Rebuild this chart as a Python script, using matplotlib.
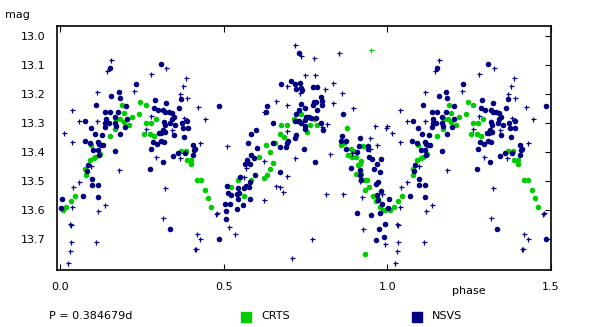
import matplotlib
matplotlib.use("Agg")
import matplotlib.pyplot as plt
from matplotlib.patches import Rectangle

# CRTS (fase, magnitude)
crts_fase = [.189, .195, .172, .184, .195, .169, .152, .094, .122, .104, .108, .091, .078, .079, .045, .033, .020, .008,
             .246, .263, .240, .219, .293, .263, .278, .210, .257, .275, .287, .369, .384, .388, .400, .400,
             .608, .419, .431, .543, .584, .624, .522, .443, .561, .451, .460,
             .736, .715, .776, .674, .693, .764, .785, .754, .671, .684, .657, .629, .641, .650, .641, .633,
             .877, .857, .867, .926, .888, .896, .879, .892, .905, .921, .918, .911, .920, .905, .919, .932,
             .938, .943, .931, .955, .965, .973, .977, .986, .994, .931]
crts_mag = [13.240, 13.266, 13.287, 13.288, 13.296, 13.320, 13.346, 13.377, 13.407, 13.420, 13.419, 13.429, 13.458,
            13.479, 13.551, 13.568, 13.589, 13.600,
            13.229, 13.240, 13.268, 13.278, 13.288, 13.299, 13.299, 13.308, 13.339, 13.339, 13.346, 13.398, 13.398,
            13.429, 13.429, 13.440,
            13.419, 13.498, 13.498, 13.498, 13.497, 13.489, 13.520, 13.531, 13.551, 13.558, 13.589,
            13.268, 13.287, 13.288, 13.308, 13.308, 13.308, 13.308, 13.330, 13.339, 13.347, 13.368, 13.377, 13.399,
            13.439, 13.458, 13.478,
            13.319, 13.376, 13.369, 13.378, 13.389, 13.397, 13.409, 13.419, 13.419, 13.430, 13.442, 13.446, 13.475,
            13.477, 13.492, 13.498, 13.498, 13.521, 13.531, 13.551, 13.569, 13.561, 13.589, 13.599, 13.599, 13.752]
crts_fase_peq = [.951]
crts_mag_peq = [13.047]

# NSVS, pontos grandes
nsvs_fase = [.152, .179, .157, .183, .109, .137, .152, .178, .078, .140, .139, .150, .168, .167, .094, .137, .170,
             .183, .106, .127, .076, .091, .115, .118, .124, .131, .167, .102, .116, .118, .085, .082, .097, .097,
             .116, .069, .006, .116, .003,
             .309, .232, .370, .290, .324, .203, .287, .299, .316, .322, .332, .341, .363, .204, .348, .341, .337,
             .318, .352, .389, .373, .375, .390, .321, .198, .314, .320, .303, .310, .347, .378, .309, .318, .284,
             .295, .406, .278, .408, .360, .382, .405, .345, .315, .274, .336,
             .486, .598, .583, .573, .412, .602, .583, .592, .570, .565, .580, .596, .550, .580, .510, .544, .562,
             .568, .577, .512, .522, .540, .548, .543, .580, .504, .519, .558, .507, .540, .507, .486,
             .730, .706, .675, .718, .732, .721, .735, .739, .773, .784, .797, .800, .777, .782, .772, .800, .632,
             .736, .729, .748, .786, .629, .721, .751, .762, .767, .782, .719, .726, .730, .737, .748, .796, .651,
             .749, .748, .803, .721, .719, .697, .694, .651, .672, .690, .745, .779, .673,
             .865, .862, .859, .874, .917, .913, .941, .874, .941, .906, .944, .952, .981, .968, .888, .959, .917,
             .916, .978, .920, .965, .971, .981, .969, .971, .983, .908, .949, .978, .974, .993, .990, .965]
nsvs_mag = [13.111, 13.194, 13.208, 13.215, 13.239, 13.263, 13.261, 13.263, 13.295, 13.288, 13.300, 13.299, 13.281,
            13.301, 13.316, 13.314, 13.311, 13.339, 13.339, 13.343, 13.363, 13.369, 13.366, 13.373, 13.375, 13.377,
            13.398, 13.394, 13.392, 13.412, 13.444, 13.467, 13.495, 13.513, 13.513, 13.551, 13.561, 13.557, 13.592,
            13.097, 13.167, 13.219, 13.222, 13.233, 13.242, 13.250, 13.257, 13.256, 13.263, 13.263, 13.265, 13.249,
            13.286, 13.281, 13.288, 13.302, 13.296, 13.308, 13.292, 13.302, 13.317, 13.318, 13.308, 13.313, 13.324,
            13.330, 13.336, 13.335, 13.343, 13.349, 13.361, 13.367, 13.367, 13.371, 13.377, 13.389, 13.392, 13.405,
            13.405, 13.409, 13.415, 13.436, 13.458, 13.664,
            13.242, 13.326, 13.337, 13.370, 13.390, 13.388, 13.412, 13.420, 13.427, 13.441, 13.441, 13.479, 13.486,
            13.502, 13.517, 13.524, 13.526, 13.518, 13.520, 13.542, 13.550, 13.546, 13.542, 13.561, 13.564, 13.579,
            13.579, 13.582, 13.603, 13.596, 13.630, 13.700,
            13.060, 13.157, 13.167, 13.167, 13.164, 13.184, 13.180, 13.186, 13.177, 13.177, 13.212, 13.226, 13.228,
            13.228, 13.240, 13.239, 13.242, 13.236, 13.254, 13.249, 13.254, 13.263, 13.271, 13.278, 13.278, 13.284,
            13.283, 13.294, 13.292, 13.295, 13.300, 13.291, 13.299, 13.299, 13.309, 13.320, 13.326, 13.341, 13.353,
            13.361, 13.369, 13.368, 13.382, 13.382, 13.389, 13.436, 13.470,
            13.271, 13.344, 13.363, 13.361, 13.353, 13.378, 13.378, 13.389, 13.389, 13.401, 13.419, 13.424, 13.423,
            13.442, 13.454, 13.458, 13.463, 13.480, 13.470, 13.498, 13.511, 13.505, 13.533, 13.549, 13.565, 13.579,
            13.610, 13.617, 13.609, 13.664, 13.648, 13.693, 13.702]

# NSVS, pontos pequenos
nsvs_fase_peq = [.157, .145, .114, .038, .059, .114, .013, .038, .096, .181, .059, .041, .038, .138, .117, .030, .034,
                 .034, .111, .031, .025,
                 .325, .279, .386, .377, .227, .368, .389, .279, .380, .263, .343, .367, .294, .322, .316, .412,
                 .423, .444, .624, .429, .511, .624, .567, .563, .624, .476, .480, .517, .418, .536, .429, .415,
                 .719, .737, .777, .734, .749, .780, .835, .695, .810, .835, .661, .695, .817, .800, .695, .826, .719,
                 .695, .660, .671, .682, .814, .771, .710,
                 .853, .862, .896, .963, .998, .997, .948, .968, .948, .893, .918, .866, .924, .985, .927, .994]
nsvs_mag_peq = [13.082, 13.120, 13.193, 13.255, 13.293, 13.293, 13.334, 13.366, 13.450, 13.463, 13.503, 13.521,
                13.591, 13.584, 13.604, 13.649, 13.653, 13.712, 13.712, 13.743, 13.784,
                13.110, 13.130, 13.144, 13.172, 13.190, 13.200, 13.214, 13.276, 13.283, 13.321, 13.324, 13.421,
                13.417, 13.525, 13.628, 13.736,
                13.245, 13.286, 13.263, 13.369, 13.379, 13.430, 13.456, 13.487, 13.566, 13.615, 13.611, 13.660,
                13.684, 13.684, 13.701, 13.736,
                13.033, 13.069, 13.075, 13.196, 13.134, 13.134, 13.161, 13.174, 13.182, 13.231, 13.224, 13.238,
                13.303, 13.313, 13.328, 13.407, 13.421, 13.484, 13.518, 13.521, 13.539, 13.546, 13.701, 13.764,
                13.058, 13.196, 13.248, 13.310, 13.311, 13.319, 13.352, 13.376, 13.390, 13.403, 13.499, 13.546,
                13.554, 13.546, 13.667, 13.719]

periodo = "P = 0.384679d"
verde = "#00cc00"
azul = "#000080"


def dobrar(fases, mags):
    # repete a fase 0-0.5 em 1-1.5
    xs = list(fases) + [f + 1 for f in fases if f < 0.5]
    ys = list(mags) + [m for f, m in zip(fases, mags) if f < 0.5]
    return xs, ys


fig = plt.figure(figsize=(6, 3.27), dpi=100)
ax = fig.add_axes([57 / 600, 1 - 270 / 327, 494 / 600, 244 / 327])

x, y = dobrar(crts_fase, crts_mag)
ax.plot(x, y, "o", color=verde, ms=4, mec="none")
x, y = dobrar(crts_fase_peq, crts_mag_peq)
ax.plot(x, y, "+", color=verde, ms=3.6, mew=0.9)
x, y = dobrar(nsvs_fase, nsvs_mag)
ax.plot(x, y, "o", color=azul, ms=4, mec="none")
x, y = dobrar(nsvs_fase_peq, nsvs_mag_peq)
ax.plot(x, y, "+", color=azul, ms=3.6, mew=0.9)

ax.set_xlim(-0.009, 1.5)
ax.set_ylim(13.807, 12.966)
ax.set_xticks([0, 0.5, 1.0, 1.5])
ax.set_xticklabels(["0.0", "0.5", "1.0", "1.5"])
ax.set_yticks([13.0, 13.1, 13.2, 13.3, 13.4, 13.5, 13.6, 13.7])
ax.set_yticklabels(["13.0", "13.1", "13.2", "13.3", "13.4", "13.5", "13.6", "13.7"])
ax.tick_params(axis="x", direction="in", top=True, bottom=True, length=4, pad=9, labelsize=8)
ax.tick_params(axis="y", direction="in", left=False, right=True, length=4, pad=8, labelsize=8)
for s in ax.spines.values():
    s.set_linewidth(1.2)

fig.text(5 / 600, 1 - 15 / 327, "mag", fontsize=8, va="center")
fig.text(452 / 600, 1 - 291 / 327, "phase", fontsize=8, va="center")
fig.text(49 / 600, 1 - 316 / 327, periodo, fontsize=8, va="center")
fig.patches.append(Rectangle((241 / 600, 1 - 322 / 327), 10 / 600, 10 / 327, color=verde, transform=fig.transFigure))
fig.text(261 / 600, 1 - 316 / 327, "CRTS", fontsize=8, va="center")
fig.patches.append(Rectangle((412 / 600, 1 - 322 / 327), 10 / 600, 10 / 327, color=azul, transform=fig.transFigure))
fig.text(432 / 600, 1 - 316 / 327, "NSVS", fontsize=8, va="center")

fig.savefig("out.png", dpi=100)
